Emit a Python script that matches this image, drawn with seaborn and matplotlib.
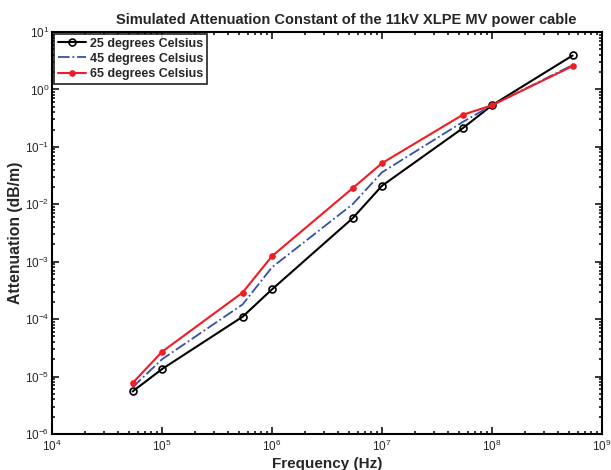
import numpy as np
import pandas as pd
import matplotlib
matplotlib.use("Agg")
import matplotlib.pyplot as plt
import seaborn as sns

freq = [5.4e4, 1e5, 5.4e5, 1e6, 5.4e6, 1e7, 5.4e7, 1e8, 5.4e8]
att_25 = [5.5e-6, 1.35e-5, 1.1e-4, 3.3e-4, 5.7e-3, 2.1e-2, 0.21, 0.53, 3.9]
att_45 = [6.5e-6, 2.0e-5, 1.8e-4, 8.0e-4, 1.0e-2, 3.6e-2, 0.27, 0.53, 2.65]
att_65 = [7.7e-6, 2.7e-5, 2.9e-4, 1.25e-3, 1.9e-2, 5.2e-2, 0.36, 0.53, 2.55]
labels = ["25 degrees Celsius", "45 degrees Celsius", "65 degrees Celsius"]

sns.set_style("ticks")
plt.rcParams['font.family'] = ['Liberation Sans', 'DejaVu Sans']
plt.rcParams['mathtext.default'] = 'regular'
plt.rcParams['mathtext.fontset'] = 'custom'
plt.rcParams['mathtext.rm'] = 'Liberation Sans'

fig = plt.figure(figsize=(6.11, 4.70), dpi=100)
ax = fig.add_axes([52/611, 1-434/470, 550/611, 402/470])

styles = [
    dict(color="black", marker="o", markersize=5, markerfacecolor="none",
         markeredgecolor="black", markeredgewidth=1.2, linestyle="-", linewidth=1.5),
    dict(color="#3350a8", marker=None, linestyle="-.", dashes=(3, 1.2, 1, 1.2), linewidth=1.3),
    dict(color="#f01c24", marker="o", markersize=4, markerfacecolor="#f01c24",
         markeredgecolor="#f01c24", linestyle="-", linewidth=1.5),
]
for vals, lab, st in zip([att_25, att_45, att_65], labels, styles):
    df = pd.DataFrame({"f": freq, "a": vals})
    sns.lineplot(data=df, x="f", y="a", ax=ax, label=lab, **st)

ax.set_xscale("log")
ax.set_yscale("log")
ax.set_xlim(1e4, 1e9)
ax.set_ylim(1e-6, 1e1)
ax.tick_params(which="both", direction="in", top=True, right=True, labelsize=8.5, width=1.3)
ax.tick_params(axis="y", pad=2)
ax.tick_params(which="major", length=5)
ax.tick_params(which="minor", length=2.5)
ax.xaxis.set_major_locator(matplotlib.ticker.LogLocator(base=10, numticks=20))
ax.yaxis.set_major_locator(matplotlib.ticker.LogLocator(base=10, numticks=20))
ax.xaxis.set_minor_locator(matplotlib.ticker.LogLocator(base=10, subs=np.arange(2, 10), numticks=20))
ax.yaxis.set_minor_locator(matplotlib.ticker.LogLocator(base=10, subs=np.arange(2, 10), numticks=20))
for sp in ax.spines.values():
    sp.set_linewidth(1.5)
    sp.set_color("black")

ax.set_title("Simulated Attenuation Constant of the 11kV XLPE MV power cable",
             fontsize=10.5, fontweight="bold", pad=6, x=0.535)
ax.set_xlabel("Frequency (Hz)", fontsize=11, fontweight="bold")
ax.set_ylabel("Attenuation (dB/m)", fontsize=11.3, fontweight="bold")
ax.yaxis.set_label_coords(-0.052, 0.5)
ax.xaxis.set_label_coords(0.5, -0.058)

leg = ax.legend(loc="upper left", fontsize=9, frameon=True, fancybox=False,
                borderaxespad=0.15, handlelength=2.3, borderpad=0.3, labelspacing=0.25,
                handletextpad=0.3)
leg.get_frame().set_edgecolor("black")
leg.get_frame().set_linewidth(1.3)
for t in leg.get_texts():
    t.set_fontweight("bold")

fig.savefig("out.png", dpi=100)
